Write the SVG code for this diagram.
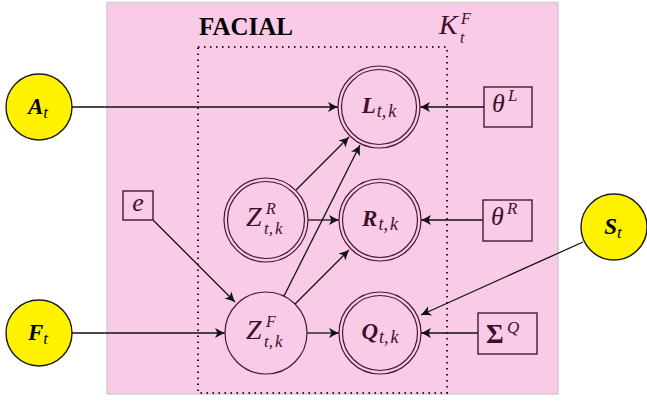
<svg xmlns="http://www.w3.org/2000/svg" width="647" height="401" viewBox="0 0 647 401">
  <style>
    .node { fill: none; stroke: #4a1536; stroke-width: 1.2; }
    .obs { fill: #fff200; stroke: #1a1a1a; stroke-width: 1.4; }
    .box { fill: none; stroke: #4a1536; stroke-width: 1.4; }
    .edge { fill: none; stroke: #111; stroke-width: 1.3; marker-end: url(#arr); }
  </style>
  <defs>
    <marker id="arr" markerUnits="userSpaceOnUse" markerWidth="14" markerHeight="12" viewBox="-11 -6 12 12" refX="0" refY="0" orient="auto">
      <path d="M0,0 C-3,-1.2 -7,-3.2 -10,-5 L-7.5,0 L-10,5 C-7,3.2 -3,1.2 0,0 Z" fill="#111"/>
    </marker>
  </defs>

  <!-- facial block background -->
  <rect x="107" y="2.5" width="451" height="391.5" fill="#f9cbe7" stroke="#cfcfcf" stroke-width="1.5"/>
  <text x="199" y="35" font-family="Liberation Serif" font-size="25" font-weight="bold" fill="#000">FACIAL</text>

  <!-- plate over k -->
  <rect x="198" y="47" width="249" height="346" fill="none" stroke="#2a1a24" stroke-width="2" stroke-dasharray="1.5 4.5"/>
  <g id="plate-label" fill="#3e0e2c">
    <text x="439" y="34" font-family="Liberation Serif" font-style="italic" font-size="28">K</text>
    <text x="461" y="24" font-family="Liberation Serif" font-style="italic" font-size="16">F</text>
    <text x="460" y="43" font-family="Liberation Serif" font-style="italic" font-size="16">t</text>
  </g>

  <!-- connectors -->
  <g id="edges">
    <line class="edge" x1="72" y1="107" x2="338" y2="107"/>
    <line class="edge" x1="484" y1="107" x2="420" y2="107"/>
    <line class="edge" x1="296" y1="190" x2="349" y2="137"/>
    <line class="edge" x1="284" y1="296" x2="360" y2="145"/>
    <line class="edge" x1="308" y1="220" x2="339" y2="220"/>
    <line class="edge" x1="295" y1="304" x2="349" y2="250"/>
    <line class="edge" x1="483" y1="220" x2="421" y2="220"/>
    <line class="edge" x1="307" y1="333" x2="339" y2="333"/>
    <line class="edge" x1="478" y1="333" x2="421" y2="333"/>
    <line class="edge" x1="583" y1="242" x2="421" y2="315"/>
    <line class="edge" x1="153" y1="220" x2="235" y2="302"/>
    <line class="edge" x1="72" y1="333" x2="225" y2="333"/>
  </g>

  <!-- observed inputs -->
  <g id="A">
    <circle class="obs" cx="39" cy="107" r="33"/>
    <text x="38" y="114" font-family="Liberation Serif" font-size="23" text-anchor="middle" fill="#000"><tspan font-weight="bold" font-style="italic">A</tspan><tspan font-style="italic" font-size="17" dy="4">t</tspan></text>
  </g>
  <g id="F">
    <circle class="obs" cx="39" cy="333" r="33"/>
    <text x="38" y="340" font-family="Liberation Serif" font-size="23" text-anchor="middle" fill="#000"><tspan font-weight="bold" font-style="italic">F</tspan><tspan font-style="italic" font-size="17" dy="4">t</tspan></text>
  </g>
  <g id="S">
    <circle class="obs" cx="614" cy="227" r="33"/>
    <text x="613" y="234" font-family="Liberation Serif" font-size="23" text-anchor="middle" fill="#000"><tspan font-weight="bold" font-style="italic">S</tspan><tspan font-style="italic" font-size="17" dy="4">t</tspan></text>
  </g>

  <!-- double-circled outputs -->
  <g id="L" fill="#3e0e2c">
    <circle class="node" cx="379" cy="107" r="41"/>
    <circle class="node" cx="379" cy="107" r="37.5"/>
    <text x="379" y="113" font-family="Liberation Serif" font-size="23" text-anchor="middle"><tspan font-weight="bold" font-style="italic">L</tspan><tspan font-style="italic" font-size="18" dx="1" dy="4">t,</tspan><tspan font-style="italic" font-size="18" dx="2">k</tspan></text>
  </g>
  <g id="R" fill="#3e0e2c">
    <circle class="node" cx="380" cy="220" r="41"/>
    <circle class="node" cx="380" cy="220" r="37.5"/>
    <text x="380" y="226" font-family="Liberation Serif" font-size="23" text-anchor="middle"><tspan font-weight="bold" font-style="italic">R</tspan><tspan font-style="italic" font-size="18" dx="1" dy="4">t,</tspan><tspan font-style="italic" font-size="18" dx="2">k</tspan></text>
  </g>
  <g id="Q" fill="#3e0e2c">
    <circle class="node" cx="380" cy="333" r="41"/>
    <circle class="node" cx="380" cy="333" r="37.5"/>
    <text x="380" y="339" font-family="Liberation Serif" font-size="23" text-anchor="middle"><tspan font-weight="bold" font-style="italic">Q</tspan><tspan font-style="italic" font-size="18" dx="1" dy="4">t,</tspan><tspan font-style="italic" font-size="18" dx="2">k</tspan></text>
  </g>
  <g id="ZR" fill="#3e0e2c">
    <circle class="node" cx="266" cy="220" r="42"/>
    <circle class="node" cx="266" cy="220" r="38.5"/>
    <text x="246" y="226" font-family="Liberation Serif" font-style="italic" font-size="28">Z</text>
    <text x="266" y="214" font-family="Liberation Serif" font-style="italic" font-size="16">R</text>
    <text x="264" y="234" font-family="Liberation Serif" font-style="italic" font-size="17">t,<tspan dx="2">k</tspan></text>
  </g>
  <g id="ZF" fill="#3e0e2c">
    <circle class="node" cx="266" cy="333" r="41"/>
    <text x="246" y="339" font-family="Liberation Serif" font-style="italic" font-size="28">Z</text>
    <text x="266" y="327" font-family="Liberation Serif" font-style="italic" font-size="16">F</text>
    <text x="264" y="347" font-family="Liberation Serif" font-style="italic" font-size="17">t,<tspan dx="2">k</tspan></text>
  </g>

  <!-- parameters -->
  <g id="thetaL" fill="#3e0e2c">
    <rect class="box" x="484" y="87" width="48" height="40"/>
    <text x="492" y="112" font-family="Liberation Serif" font-style="italic" font-size="26">θ</text>
    <text x="508" y="101" font-family="Liberation Serif" font-style="italic" font-size="17">L</text>
  </g>
  <g id="thetaR" fill="#3e0e2c">
    <rect class="box" x="483" y="200" width="49" height="41"/>
    <text x="491" y="225" font-family="Liberation Serif" font-style="italic" font-size="26">θ</text>
    <text x="507" y="214" font-family="Liberation Serif" font-style="italic" font-size="17">R</text>
  </g>
  <g id="SigmaQ" fill="#3e0e2c">
    <rect class="box" x="478" y="313" width="59" height="41"/>
    <text x="486" y="343" font-family="Liberation Serif" font-size="27" font-weight="bold">Σ</text>
    <text x="507" y="333" font-family="Liberation Serif" font-style="italic" font-size="17">Q</text>
  </g>
  <g id="e" fill="#3e0e2c">
    <rect class="box" x="123" y="191" width="30" height="29"/>
    <text x="138" y="211" font-family="Liberation Serif" font-style="italic" font-size="26" text-anchor="middle">e</text>
  </g>
</svg>
